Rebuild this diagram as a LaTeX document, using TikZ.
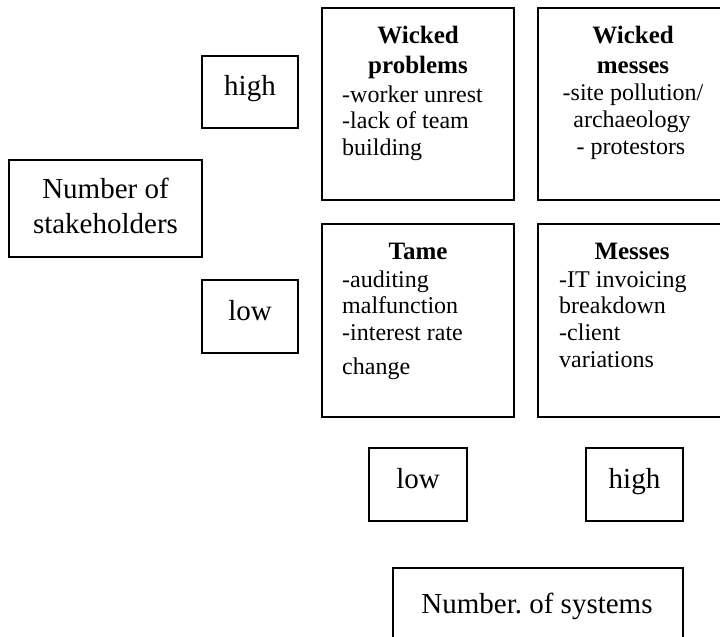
\documentclass[tikz,border=0pt]{standalone}
\usepackage{fontspec}
\setmainfont{Liberation Serif}
\frenchspacing
\begin{document}
\begin{tikzpicture}[x=1pt,y=-1pt,
  box/.style={draw, line width=1.4pt, inner sep=0pt, minimum width=#1},
  lbl/.style={font=\fontsize{29}{35}\selectfont, inner sep=0pt},
  head/.style={font=\fontsize{25}{30}\selectfont\bfseries, inner sep=0pt, anchor=base},
  body/.style={font=\fontsize{24}{27}\selectfont, inner sep=0pt, anchor=base west},
  bodyc/.style={font=\fontsize{24}{27}\selectfont, inner sep=0pt, anchor=base}]
\useasboundingbox (0,0) rectangle (720,637);
\clip (0,0) rectangle (720,637);
% axis label boxes
\node[box=96pt, minimum height=72pt] (hiS) at (250,92) {};
\node[lbl, anchor=base] (hiSt) at (250,95) {high};
\node[box=193pt, minimum height=97pt] (stake) at (105.5,208.5) {};
\node[lbl, anchor=base] (stake1) at (105.5,198) {Number of};
\node[lbl, anchor=base] (stake2) at (105.5,233) {stakeholders};
\node[box=96pt, minimum height=73pt] (loS) at (250,316.5) {};
\node[lbl, anchor=base] (loSt) at (250,320) {low};
\node[box=98pt, minimum height=73pt] (loX) at (418,484.5) {};
\node[lbl, anchor=base] (loXt) at (418,488) {low};
\node[box=97pt, minimum height=73pt] (hiX) at (634.5,484.5) {};
\node[lbl, anchor=base] (hiXt) at (634.5,488) {high};
\node[box=290pt, minimum height=73pt] (sys) at (538,604.5) {};
\node[lbl, anchor=base] (syst) at (537,613) {Number. of systems};
% quadrant boxes
\node[box=192pt, minimum height=192pt] (wp) at (418,104) {};
\node[box=192pt, minimum height=192pt] (wm) at (634,104) {};
\node[box=192pt, minimum height=193pt] (tame) at (418,320.5) {};
\node[box=192pt, minimum height=193pt] (mess) at (634,320.5) {};
% Wicked problems
\node[head] (wph1) at (418,43) {Wicked};
\node[head] (wph2) at (418,73) {problems};
\node[body] (wpb1) at (342,102) {-worker unrest};
\node[body] (wpb2) at (342,128) {-lack of team};
\node[body] (wpb3) at (342,155) {building};
% Wicked messes
\node[head] (wmh1) at (633,43) {Wicked};
\node[head] (wmh2) at (633,73) {messes};
\node[bodyc] (wmb1) at (633,100) {-site pollution/};
\node[bodyc] (wmb2) at (632,127) {archaeology};
\node[bodyc] (wmb3) at (631,154) {- protestors};
% Tame
\node[head] (tah) at (418,259) {Tame};
\node[body] (tab1) at (342,287) {-auditing};
\node[body] (tab2) at (342,313) {malfunction};
\node[body] (tab3) at (342,340) {-interest rate};
\node[body] (tab4) at (342,374) {change};
% Messes
\node[head] (meh) at (632,259) {Messes};
\node[body] (meb1) at (559,287) {-IT invoicing};
\node[body] (meb2) at (559,313) {breakdown};
\node[body] (meb3) at (559,340) {-client};
\node[body] (meb4) at (559,367) {variations};
\end{tikzpicture}
\end{document}
